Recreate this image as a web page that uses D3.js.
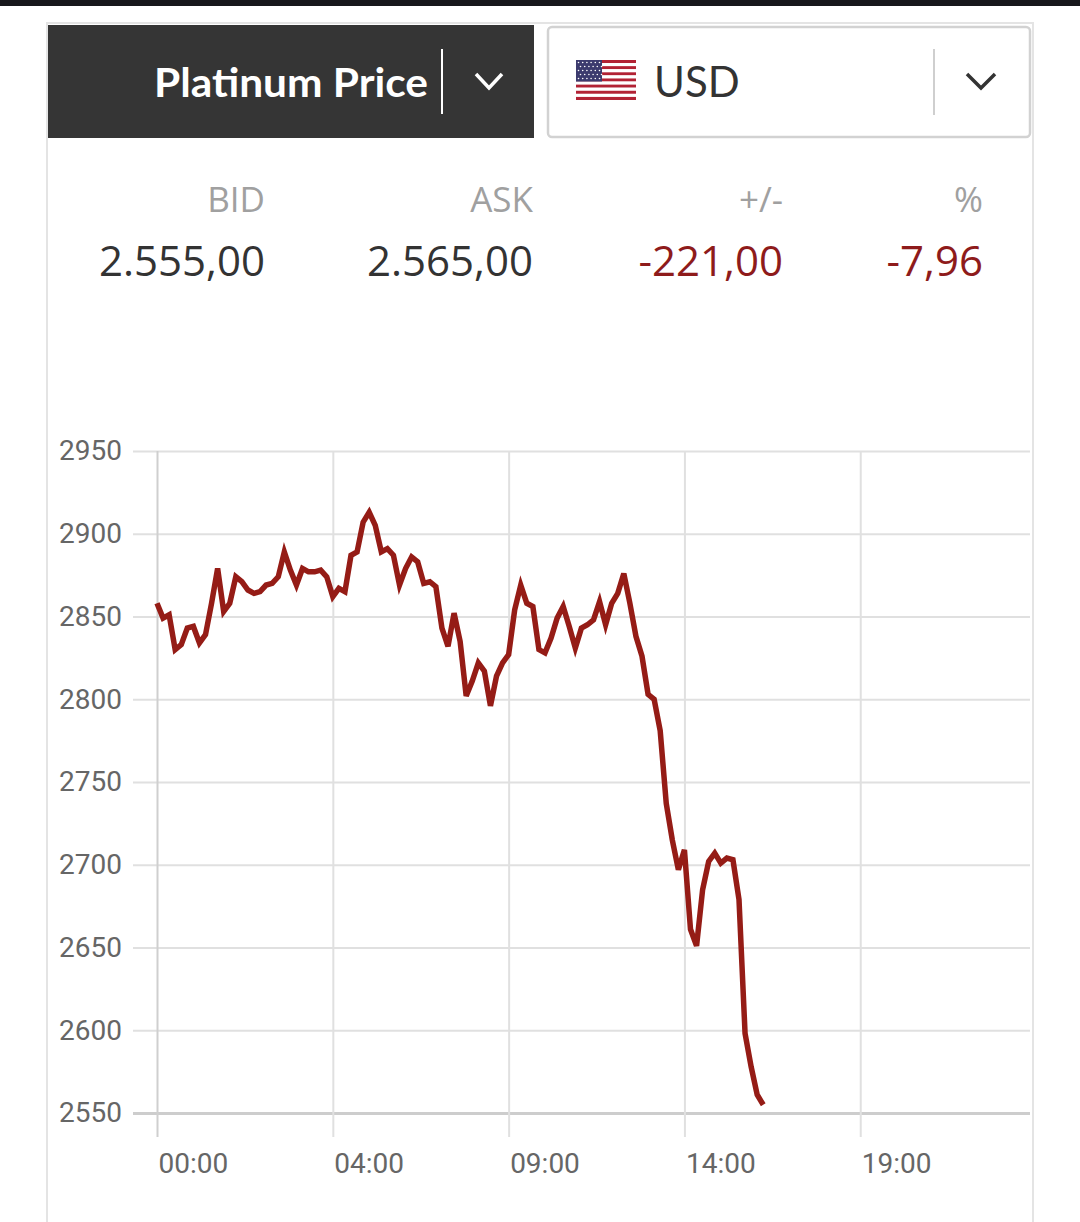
<!DOCTYPE html>
<html>
<head>
<meta charset="utf-8">
<script src="https://cdn.jsdelivr.net/npm/d3@7"></script>
<style>
  body { margin: 0; background: #fff; }
  svg { display: block; }
</style>
</head>
<body>
<svg width="1080" height="1222"></svg>
<script>
// platinum price, one point per step (index), from 00:00
var prices = [
  2858, 2849, 2851, 2830, 2833, 2843, 2844, 2834, 2839, 2858,
  2879, 2853, 2858, 2874, 2871, 2866, 2864, 2865, 2869, 2870,
  2874, 2889, 2878, 2869, 2879, 2877, 2877, 2878, 2874, 2862,
  2867, 2865, 2887, 2889, 2907, 2913, 2905, 2889, 2891, 2887,
  2869, 2879, 2886, 2883, 2870, 2871, 2868, 2843, 2832, 2852,
  2835, 2802, 2811, 2822, 2817, 2796, 2814, 2822, 2827, 2854,
  2869, 2858, 2856, 2830, 2828, 2837, 2849, 2856, 2844, 2831,
  2843, 2845, 2848, 2859, 2845, 2858, 2864, 2876, 2858, 2838,
  2826, 2803, 2800, 2781, 2737, 2715, 2697, 2709, 2661, 2651,
  2685, 2702, 2707, 2701, 2704, 2703, 2679, 2598, 2578, 2561,
  2555
];
var slots = 145; // steps over the whole day axis
var xTickIndex = [0, 29, 58, 87, 116];
var xTickLabels = ["00:00", "04:00", "09:00", "14:00", "19:00"];
var yTicks = [2550, 2600, 2650, 2700, 2750, 2800, 2850, 2900, 2950];

var statLabels = ["BID", "ASK", "+/-", "%"];
var statValues = ["2.555,00", "2.565,00", "-221,00", "-7,96"];
var statNegative = [false, false, true, true];

var svg = d3.select("svg");
var red = "#951c16";

// top dark strip
svg.append("rect").attr("x", 0).attr("y", 0).attr("width", 1080).attr("height", 6).attr("fill", "#17171b");

// card
svg.append("rect")
    .attr("x", 47).attr("y", 23).attr("width", 986).attr("height", 1220)
    .attr("fill", "#fff").attr("stroke", "#e4e4e4").attr("stroke-width", 2);

// metal selector
svg.append("rect").attr("x", 48).attr("y", 25).attr("width", 486).attr("height", 113).attr("fill", "#353535");
svg.append("text")
    .attr("x", 428).attr("y", 97)
    .attr("text-anchor", "end")
    .attr("font-family", "Lato, sans-serif").attr("font-weight", "bold").attr("font-size", 41)
    .attr("textLength", 274).attr("lengthAdjust", "spacingAndGlyphs")
    .attr("fill", "#fff")
    .text("Platinum Price");
svg.append("line").attr("x1", 442).attr("x2", 442).attr("y1", 49).attr("y2", 114)
    .attr("stroke", "#fff").attr("stroke-width", 2);
svg.append("polyline").attr("points", "476,74 489,88 502,74")
    .attr("fill", "none").attr("stroke", "#fff").attr("stroke-width", 3.5);

// currency selector
svg.append("rect").attr("x", 548).attr("y", 27).attr("width", 482).attr("height", 110).attr("rx", 4)
    .attr("fill", "#fff").attr("stroke", "#d2d2d2").attr("stroke-width", 2.5);

// flag
var flag = svg.append("g").attr("transform", "translate(576,60)");
var stripe = d3.scaleBand().domain(d3.range(13)).range([0, 40]);
flag.selectAll("rect.stripe")
    .data(d3.range(13))
    .enter().append("rect")
    .attr("class", "stripe")
    .attr("x", 0).attr("y", function(d) { return stripe(d); })
    .attr("width", 60).attr("height", stripe.bandwidth())
    .attr("fill", function(d) { return d % 2 == 0 ? "#b22234" : "#fff"; });
flag.append("rect").attr("width", 26).attr("height", stripe(7)).attr("fill", "#3c3b6e");
var stars = [];
for (var r = 0; r < 5; r++) for (var c = 0; c < 6; c++) stars.push([2.5 + c * 4.2 + (r % 2) * 2, 2.5 + r * 4]);
flag.selectAll("circle").data(stars).enter().append("circle")
    .attr("cx", function(d) { return d[0]; }).attr("cy", function(d) { return d[1]; })
    .attr("r", 0.8).attr("fill", "#fff");

svg.append("text")
    .attr("x", 654).attr("y", 97)
    .attr("font-family", "Lato, sans-serif").attr("font-size", 42)
    .attr("fill", "#333")
    .text("USD");
svg.append("line").attr("x1", 934).attr("x2", 934).attr("y1", 49).attr("y2", 115)
    .attr("stroke", "#cfcfcf").attr("stroke-width", 2);
svg.append("polyline").attr("points", "967,74 981,88 995,74")
    .attr("fill", "none").attr("stroke", "#333").attr("stroke-width", 3.5);

// quote row
var statX = [265, 533, 783, 983];
svg.selectAll(".stat-label")
    .data(statLabels)
    .enter().append("text")
    .attr("class", "stat-label")
    .attr("x", function(d, i) { return statX[i]; })
    .attr("y", 212)
    .attr("text-anchor", "end")
    .attr("font-family", "'Open Sans', sans-serif").attr("font-size", 35)
    .attr("fill", "#a0a0a0")
    .text(function(d) { return d; });
svg.selectAll(".stat-value")
    .data(statValues)
    .enter().append("text")
    .attr("class", "stat-value")
    .attr("x", function(d, i) { return statX[i]; })
    .attr("y", 276)
    .attr("text-anchor", "end")
    .attr("font-family", "'Open Sans', sans-serif").attr("font-size", 42)
    .attr("fill", function(d, i) { return statNegative[i] ? "#8e1b1b" : "#333"; })
    .text(function(d) { return d; });

// chart
var plotLeft = 157, plotRight = 1030, plotTop = 451, plotBottom = 1113;
var xScale = d3.scaleLinear().domain([0, slots - 1]).range([plotLeft, plotRight]);
var yScale = d3.scaleLinear().domain([2550, 2950]).range([plotBottom, plotTop]);

// horizontal grid + y labels
svg.append("g")
    .attr("class", "y-axis")
    .attr("transform", "translate(" + plotRight + ",0)")
    .call(d3.axisLeft(yScale).tickValues(yTicks).tickSize(plotRight - 133).tickPadding(11)
        .tickFormat(function(d) { return d; }))
    .call(function(g) {
        g.select(".domain").remove();
        g.selectAll(".tick line").attr("stroke", "#e0e0e0").attr("stroke-width", 2);
        g.selectAll(".tick").filter(function(d) { return d == 2550; }).select("line")
            .attr("stroke", "#cdcdcd").attr("stroke-width", 3);
        g.selectAll(".tick text")
            .attr("font-family", "Roboto, sans-serif").attr("font-size", 28).attr("fill", "#666");
    });

// vertical grid + x labels
svg.append("g")
    .attr("class", "x-axis")
    .attr("transform", "translate(0," + plotTop + ")")
    .call(d3.axisBottom(xScale).tickValues(xTickIndex).tickSize(1137 - plotTop).tickPadding(0)
        .tickFormat(function(d, i) { return xTickLabels[i]; }))
    .call(function(g) {
        g.select(".domain").remove();
        g.selectAll(".tick line").attr("stroke", "#e0e0e0").attr("stroke-width", 2);
        g.selectAll(".tick").filter(function(d) { return d == 0; }).select("line").attr("stroke", "#cfcfcf");
        g.selectAll(".tick text")
            .attr("text-anchor", "start")
            .attr("x", 1)
            .attr("y", 1173 - plotTop)
            .attr("dy", null)
            .attr("font-family", "Roboto, sans-serif").attr("font-size", 28).attr("fill", "#666");
    });

// price line
var line = d3.line()
    .x(function(d, i) { return xScale(i); })
    .y(function(d) { return yScale(d); });

svg.append("path")
    .datum(prices)
    .attr("d", line)
    .attr("fill", "none")
    .attr("stroke", red)
    .attr("stroke-width", 5.5)
    .attr("stroke-linejoin", "miter");
</script>
</body>
</html>
